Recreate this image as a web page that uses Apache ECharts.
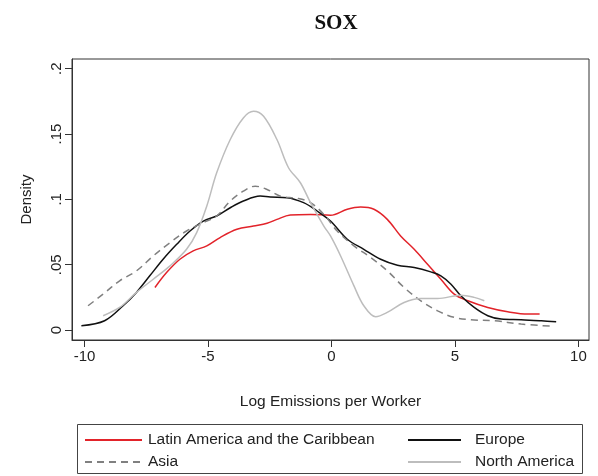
<!DOCTYPE html>
<html><head><meta charset="utf-8">
<script src="https://cdn.jsdelivr.net/npm/echarts@6/dist/echarts.min.js"></script>
<style>html,body{margin:0;padding:0;background:#fff}#c{width:598px;height:476px}</style>
</head><body><div id="c"></div>
<script>
const title = 'SOX';
const xTicks = [-10, -5, 0, 5, 10];
const yTicks = [0, 0.05, 0.1, 0.15, 0.2];
const seriesNames = ['Latin America and the Caribbean', 'Europe', 'Asia', 'North America'];

const latX = [-7.15,-6.68,-6.14,-5.6,-5.05,-4.51,-3.83,-3.16,-2.61,-2.21,-1.67,-0.85,-0.04,0.64,1.18,1.72,2.26,2.8,3.35,3.89,4.43,4.97,5.52,6.33,7.14,7.96,8.43];
const latY = [.0326,.044,.0542,.0606,.0644,.0708,.0771,.0796,.0817,.0847,.088,.0885,.0878,.0924,.0941,.0924,.0847,.072,.0618,.0504,.0389,.0275,.0224,.0173,.014,.0122,.0122];

const eurX = [-10.13,-9.19,-8.44,-7.9,-7.36,-6.82,-6.27,-5.73,-5.19,-4.65,-4.1,-3.57,-2.89,-2.48,-1.8,-1.13,-0.58,-0.04,0.64,1.31,1.99,2.67,3.35,4.02,4.43,4.84,5.24,5.78,6.33,6.87,7.68,8.5,9.1];
const eurY = [.0033,.0071,.0186,.0288,.0415,.0542,.0656,.0758,.0834,.0873,.0936,.0987,.1025,.1018,.1013,.0975,.0911,.0834,.0695,.0618,.0542,.0496,.0478,.0445,.0415,.0351,.0262,.0173,.011,.0084,.0079,.0071,.0064];

const asiaX = [-9.86,-9.25,-8.58,-7.9,-7.22,-6.54,-5.87,-5.19,-4.65,-4.1,-3.57,-3.09,-2.61,-2.07,-1.39,-0.85,-0.31,0.23,0.91,1.59,2.26,2.94,3.62,4.3,4.97,5.65,6.6,7.68,9.04];
const asiaY = [.0186,.0275,.0377,.0453,.0567,.0669,.0758,.0822,.0873,.0987,.1063,.1101,.1076,.1025,.1008,.0975,.0885,.0758,.0644,.0555,.0453,.0326,.0224,.0147,.0097,.0079,.0071,.0046,.0028];

const naX = [-9.25,-8.58,-7.9,-7.22,-6.54,-5.87,-5.46,-5.05,-4.65,-4.1,-3.57,-3.16,-2.75,-2.21,-1.74,-1.26,-0.85,-0.31,-0.04,0.37,0.91,1.31,1.79,2.26,2.94,3.62,4.3,5.24,5.78,6.19];
const naY = [.011,.0173,.0288,.0389,.0491,.0618,.0746,.0949,.1203,.1458,.1623,.1674,.1636,.1458,.1242,.1127,.0975,.0796,.072,.0567,.0338,.0186,.0102,.0135,.0211,.0241,.0241,.0267,.025,.0224];

function pairs(xs, ys){ return xs.map((x,i)=>[x, ys[i]]); }

const chart = echarts.init(document.getElementById('c'), null, {renderer:'canvas'});
const font = 'Liberation Sans, Arial, sans-serif';
const mk = (name, xs, ys, color, type, width) => ({
  name, type:'line', data: pairs(xs, ys), showSymbol:false, symbol:'none', smooth:0.35,
  lineStyle:{color, width, type}, itemStyle:{color}, z: 3
});
const leg = (name, left, top, w, gapPad) => ({
  data:[name], orient:'horizontal', left, top, padding:0, itemWidth:w, itemHeight:14,
  itemStyle:{opacity:0}, selectedMode:false,
  textStyle:{fontFamily:font, fontSize:15.5, color:'#222', padding:[0,0,0,gapPad]}
});
chart.setOption({
  animation:false,
  title:{text:title, left:331, top:8, textAlign:'center',
    textStyle:{fontFamily:'Liberation Serif, DejaVu Serif, serif', fontWeight:'bold', fontSize:21, color:'#111'}},
  grid:{left:72, right:9, top:59, bottom:136, show:true, borderColor:'#333', borderWidth:1},
  xAxis:{type:'value', min:-10.51, max:10.43,
    name:'Log Emissions per Worker', nameLocation:'middle', nameGap:54,
    nameTextStyle:{fontFamily:font, fontSize:15.5, color:'#222'},
    axisLine:{show:true, onZero:false, lineStyle:{color:'#333'}},
    axisTick:{show:true, length:7, customValues:xTicks, lineStyle:{color:'#333'}},
    axisLabel:{customValues:xTicks, margin:9, fontFamily:font, fontSize:15, color:'#222'},
    splitLine:{show:false}},
  yAxis:{type:'value', min:-0.0076, max:0.2074,
    name:'Density', nameLocation:'middle', nameGap:38,
    nameTextStyle:{fontFamily:font, fontSize:15, color:'#222'},
    axisLine:{show:true, onZero:false, lineStyle:{color:'#333'}},
    axisTick:{show:true, length:7, customValues:yTicks, lineStyle:{color:'#333'}},
    axisLabel:{customValues:yTicks, rotate:90, margin:8, fontFamily:font, fontSize:15, color:'#222',
      formatter:v=> v===0 ? '0' : String(+v.toFixed(2)).replace(/^0/,'')},
    splitLine:{show:false}},
  legend:[
    leg(seriesNames[0], 84, 432, 57, 1),
    leg(seriesNames[2], 84, 454, 57, 1),
    leg(seriesNames[1], 407, 432, 53, 9),
    leg(seriesNames[3], 407, 454, 53, 9)
  ],
  graphic:[{type:'rect', shape:{x:77.5, y:424.5, width:505, height:49}, style:{fill:'none', stroke:'#444', lineWidth:1}, z:-1}],
  series:[
    mk(seriesNames[0], latX, latY, '#e2232a', 'solid', 1.5),
    mk(seriesNames[1], eurX, eurY, '#111111', 'solid', 1.5),
    mk(seriesNames[2], asiaX, asiaY, '#808080', [7,5], 1.5),
    mk(seriesNames[3], naX, naY, '#bdbdbd', 'solid', 1.5)
  ]
});
</script></body></html>
